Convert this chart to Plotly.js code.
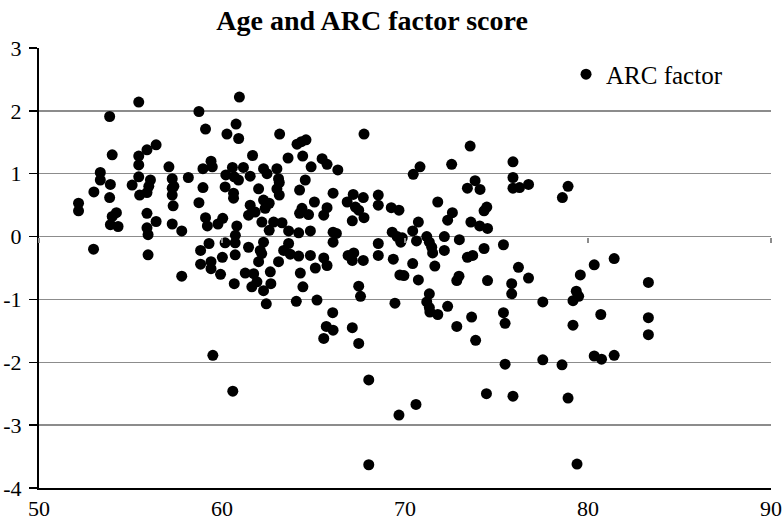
<!DOCTYPE html>
<html>
<head>
<meta charset="utf-8">
<script src="https://cdn.plot.ly/plotly-3.0.1.min.js"></script>
<style>
  html, body { margin: 0; padding: 0; background: #fff; }
  #chart { width: 783px; height: 520px; }
</style>
</head>
<body>
<div id="chart"></div>
<script>
// age of each participant (x) and ARC factor score (y)
var ages = [
  55.45, 53.86, 58.74, 60.95, 59.1, 60.77, 60.27, 60.91, 56.4, 55.9,
  55.45, 54.0, 55.45, 57.1, 53.35, 59.4, 59.47, 58.96, 60.57, 55.45,
  58.16, 57.28, 60.21, 60.67, 53.35, 53.9, 55.09, 56.09, 56.0, 57.28,
  57.37, 53.0, 55.5, 55.9, 57.28, 58.96, 60.17, 60.63, 60.63, 53.86,
  52.16, 52.16, 57.33, 58.74, 54.23, 54.0, 55.9, 56.4, 53.9, 54.32,
  55.9, 57.28, 57.8, 59.1, 59.2, 59.78, 60.04, 60.81, 55.96, 60.73,
  52.98, 55.96, 58.83, 59.29, 60.17, 60.72, 60.02, 60.72, 58.83, 59.4,
  59.4, 59.92, 57.8, 60.67, 59.5, 60.59, 63.15, 67.76, 64.1, 64.34,
  64.59, 61.67, 63.61, 64.41, 65.47, 65.74, 61.17, 62.27, 63.0, 64.87,
  66.33, 60.9, 61.54, 62.46, 63.09, 63.13, 64.55, 62.0, 63.0, 63.13,
  64.24, 66.07, 66.84, 67.17, 67.72, 68.54, 68.54, 69.25, 69.67, 61.54,
  62.27, 62.58, 62.36, 61.81, 65.05, 65.74, 65.56, 64.37, 64.24, 64.73,
  67.29, 67.47, 67.76, 67.12, 61.45, 62.18, 62.82, 63.28, 62.58, 63.64,
  64.19, 64.83, 66.07, 66.25, 66.07, 69.3, 69.57, 61.45, 62.27, 62.09,
  63.64, 63.37, 63.73, 64.19, 64.83, 65.1, 65.74, 65.56, 66.89, 67.2,
  67.72, 68.54, 68.54, 69.36, 69.72, 61.27, 61.73, 62.0, 62.64, 63.09,
  64.28, 67.12, 61.63, 61.91, 62.17, 62.67, 62.27, 62.42, 64.42, 64.06,
  65.19, 66.05, 65.7, 66.07, 65.56, 67.47, 67.57, 67.12, 67.47, 69.45,
  68.02, 69.67, 68.02, 73.56, 72.55, 70.82, 70.45, 75.9, 75.9, 73.83,
  73.41, 74.1, 75.9, 76.26, 76.75, 78.91, 78.6, 71.79, 74.47, 74.32,
  72.59, 72.33, 70.73, 73.6, 74.08, 74.51, 70.42, 71.19, 69.77, 69.85,
  70.63, 71.33, 71.46, 71.51, 72.15, 72.15, 72.97, 74.32, 75.38, 73.41,
  73.7, 70.42, 71.63, 76.2, 69.94, 70.73, 72.95, 74.51, 76.75, 79.58,
  72.83, 75.83, 75.83, 71.33, 71.19, 71.33, 71.36, 71.79, 72.33, 73.64,
  72.83, 73.86, 75.38, 75.47, 77.53, 79.18, 79.36, 79.18, 75.47, 77.53,
  78.58, 74.45, 75.9, 78.91, 70.6, 79.4, 81.43, 80.34, 83.3, 79.49,
  80.7, 83.3, 83.3, 80.34, 80.74, 81.43
];

var arcScores = [
  2.14, 1.91, 1.99, 2.22, 1.71, 1.79, 1.63, 1.56, 1.46, 1.38,
  1.28, 1.30, 1.14, 1.11, 1.02, 1.20, 1.11, 1.08, 1.10, 0.95,
  0.94, 0.92, 0.98, 0.95, 0.90, 0.83, 0.82, 0.90, 0.80, 0.77,
  0.80, 0.71, 0.66, 0.70, 0.66, 0.78, 0.79, 0.69, 0.61, 0.62,
  0.53, 0.41, 0.49, 0.54, 0.38, 0.32, 0.37, 0.24, 0.19, 0.16,
  0.14, 0.20, 0.09, 0.30, 0.17, 0.20, 0.29, 0.17, 0.03, 0.02,
  -0.20, -0.29, -0.22, -0.11, -0.10, -0.10, -0.33, -0.29, -0.44, -0.40,
  -0.51, -0.60, -0.63, -0.75, -1.89, -2.46, 1.63, 1.63, 1.47, 1.51,
  1.54, 1.29, 1.25, 1.28, 1.24, 1.15, 1.10, 1.08, 1.08, 1.11,
  1.06, 0.90, 0.96, 1.00, 0.92, 0.86, 0.90, 0.76, 0.76, 0.66,
  0.74, 0.69, 0.55, 0.67, 0.62, 0.66, 0.50, 0.46, 0.42, 0.50,
  0.58, 0.53, 0.45, 0.39, 0.55, 0.46, 0.34, 0.45, 0.37, 0.35,
  0.47, 0.42, 0.30, 0.25, 0.34, 0.23, 0.23, 0.22, 0.10, 0.09,
  0.06, 0.09, 0.07, 0.05, -0.09, 0.07, 0.00, -0.17, -0.09, -0.22,
  -0.11, -0.22, -0.28, -0.31, -0.30, -0.50, -0.46, -0.34, -0.30, -0.26,
  -0.38, -0.11, -0.30, -0.36, -0.61, -0.58, -0.59, -0.40, -0.56, -0.40,
  -0.58, -0.38, -0.80, -0.72, -0.27, -0.75, -0.86, -1.07, -0.80, -1.03,
  -1.01, -1.21, -1.43, -1.49, -1.62, -0.79, -0.95, -1.45, -1.70, -1.06,
  -2.28, -2.84, -3.63, 1.44, 1.15, 1.11, 0.99, 1.19, 0.94, 0.89,
  0.77, 0.75, 0.77, 0.78, 0.83, 0.80, 0.62, 0.55, 0.47, 0.41,
  0.38, 0.26, 0.23, 0.23, 0.17, 0.13, 0.09, 0.00, -0.09, -0.02,
  -0.07, -0.09, -0.17, -0.26, 0.00, -0.22, -0.05, -0.19, -0.13, -0.33,
  -0.30, -0.43, -0.47, -0.49, -0.62, -0.69, -0.63, -0.70, -0.66, -0.61,
  -0.70, -0.75, -0.91, -0.91, -1.04, -1.13, -1.20, -1.24, -1.11, -1.28,
  -1.43, -1.65, -1.21, -1.38, -1.04, -1.02, -0.87, -1.41, -2.03, -1.96,
  -2.04, -2.50, -2.54, -2.57, -2.67, -3.62, -0.35, -0.45, -0.73, -0.95,
  -1.24, -1.29, -1.56, -1.90, -1.95, -1.89
];

var xTicks = [50, 60, 70, 80, 90];
var yTicks = [-4, -3, -2, -1, 0, 1, 2, 3];

var serif = '"Liberation Serif", "DejaVu Serif", serif';

var trace1 = {
  x: ages,
  y: arcScores,
  name: 'ARC factor',
  type: 'scatter',
  mode: 'markers',
  marker: { color: '#000000', size: 11 },
  hoverinfo: 'none'
};

// empty helper trace so the axis crossing at y=0 (with its small ticks) gets drawn
var trace2 = {
  x: [],
  y: [],
  xaxis: 'x2',
  type: 'scatter',
  mode: 'markers',
  showlegend: false,
  hoverinfo: 'none'
};

var data = [trace1, trace2];

var layout = {
  width: 783,
  height: 520,
  title: {
    text: 'Age and ARC factor score',
    font: { family: serif, size: 28, color: '#000', weight: 'bold' },
    x: 0.455,
    xanchor: 'center',
    xref: 'paper',
    y: 0.962,
    yref: 'container',
    yanchor: 'middle'
  },
  xaxis: {
    range: [50, 90],
    tickvals: xTicks,
    ticktext: xTicks.map(String),
    showgrid: false,
    zeroline: false,
    showline: true,
    linecolor: '#000',
    linewidth: 2,
    ticks: '',
    tickfont: { family: serif, size: 22, color: '#000' },
    fixedrange: true
  },
  xaxis2: {
    overlaying: 'x',
    anchor: 'free',
    position: 4 / 7,
    range: [50, 90],
    tickvals: xTicks,
    showticklabels: false,
    showgrid: false,
    zeroline: false,
    showline: false,
    ticks: 'outside',
    ticklen: 5,
    tickwidth: 1.5,
    tickcolor: '#8c8c8c'
  },
  yaxis: {
    range: [-4, 3],
    tickvals: yTicks,
    ticktext: yTicks.map(String),
    showgrid: true,
    gridcolor: '#8c8c8c',
    gridwidth: 1.5,
    zeroline: true,
    zerolinecolor: '#8c8c8c',
    zerolinewidth: 1.5,
    showline: true,
    linecolor: '#000',
    linewidth: 2,
    ticks: 'outside',
    ticklen: 8,
    tickwidth: 1.5,
    tickcolor: '#000',
    ticklabelstandoff: 3,
    tickfont: { family: serif, size: 22, color: '#000' },
    fixedrange: true
  },
  showlegend: true,
  legend: {
    x: 0.72,
    xanchor: 'left',
    y: 0.94,
    yanchor: 'middle',
    bgcolor: 'rgba(0,0,0,0)',
    font: { family: serif, size: 25, color: '#000' }
  },
  margin: { l: 39, r: 12, t: 48, b: 32, pad: 0 },
  paper_bgcolor: '#ffffff',
  plot_bgcolor: '#ffffff'
};

var config = { responsive: false, displayModeBar: false, staticPlot: true };

Plotly.newPlot('chart', data, layout, config);
</script>
</body>
</html>
